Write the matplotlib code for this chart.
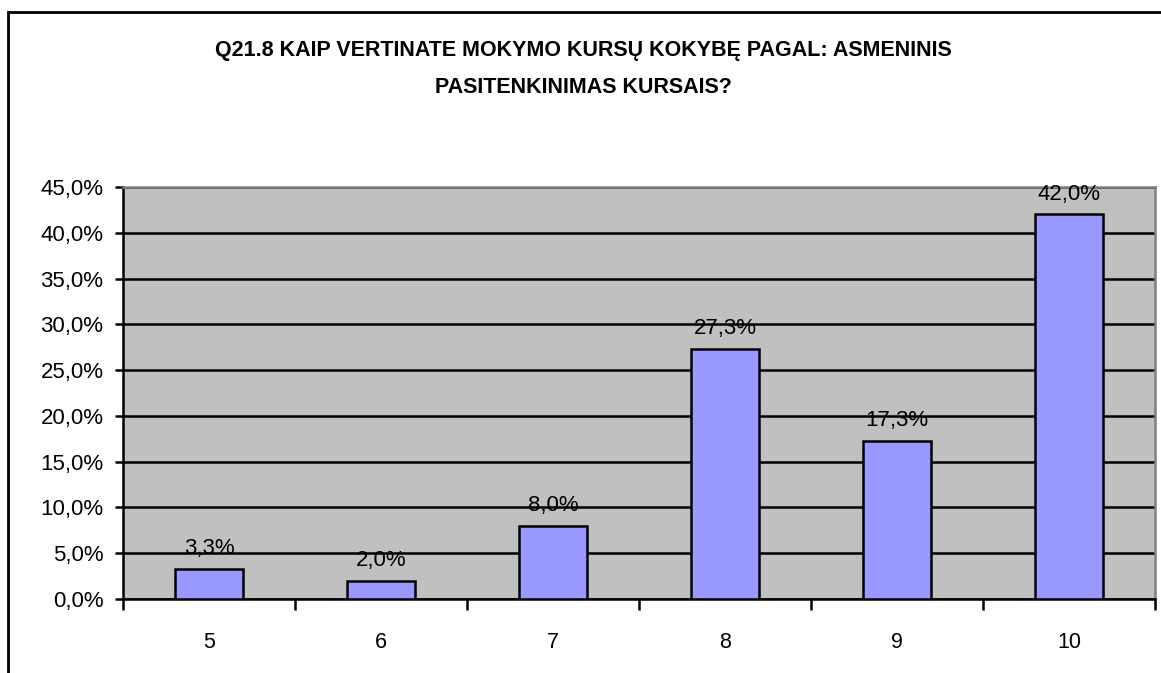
import matplotlib
matplotlib.use("Agg")
import matplotlib.pyplot as plt
from matplotlib.patches import Rectangle

categories = ["5", "6", "7", "8", "9", "10"]
values = [3.3, 2.0, 8.0, 27.3, 17.3, 42.0]
yticks = [0, 5, 10, 15, 20, 25, 30, 35, 40, 45]
title = "Q21.8 KAIP VERTINATE MOKYMO KURSŲ KOKYBĘ PAGAL: ASMENINIS\nPASITENKINIMAS KURSAIS?"

plt.rcParams['font.family'] = ['Liberation Sans', 'DejaVu Sans']

W, H = 1161, 673
fig = plt.figure(figsize=(W/100, H/100), dpi=100)
fig.patch.set_facecolor("white")

# outer frame (extends beyond right/bottom edges)
fig.patches.append(Rectangle((8/W, -0.1), 1.2, 1 - 12/H + 0.1, transform=fig.transFigure,
                             fill=False, edgecolor="black", linewidth=2))

left, right, top, bottom = 123, 1155, 187, 599
ax = fig.add_axes([left/W, 1-bottom/H, (right-left)/W, (bottom-top)/H])
ax.set_facecolor("#C0C0C0")

x = list(range(len(categories)))
ax.bar(x, values, width=0.4, color="#9999FF", edgecolor="black", linewidth=1.8, zorder=3)

ax.set_xlim(-0.5, len(categories)-0.5)
ax.set_ylim(0, 45)
ax.set_yticks(yticks)
ax.set_yticklabels([f"{v:.1f}".replace(".", ",") + "%" for v in yticks], fontsize=16)
ax.yaxis.grid(True, color="black", linewidth=1.8, zorder=1)
ax.set_axisbelow(True)

ax.set_xticks(x)
ax.set_xticklabels(categories, fontsize=15.5)
ax.tick_params(axis="x", which="major", length=0, pad=24)
ax.set_xticks([i - 0.5 for i in range(len(categories)+1)], minor=True)
ax.tick_params(axis="x", which="minor", length=8, width=1.8, direction="out")
ax.tick_params(axis="y", length=6, width=1.8, direction="out", pad=8)

for s in ["left", "bottom"]:
    ax.spines[s].set_color("black")
    ax.spines[s].set_linewidth(1.8)
for s in ["top", "right"]:
    ax.spines[s].set_color("#808080")
    ax.spines[s].set_linewidth(1.8)

for xi, v in zip(x, values):
    ax.annotate(f"{v:.1f}".replace(".", ",") + "%", (xi, v), xytext=(0, 7),
                textcoords="offset points", ha="center", va="bottom", fontsize=16, zorder=4)

fig.text(583/W, 1 - 40/H, title, ha="center", va="top",
         fontsize=15.5, fontweight="bold", linespacing=2.0)

fig.savefig("out.png", dpi=100)
